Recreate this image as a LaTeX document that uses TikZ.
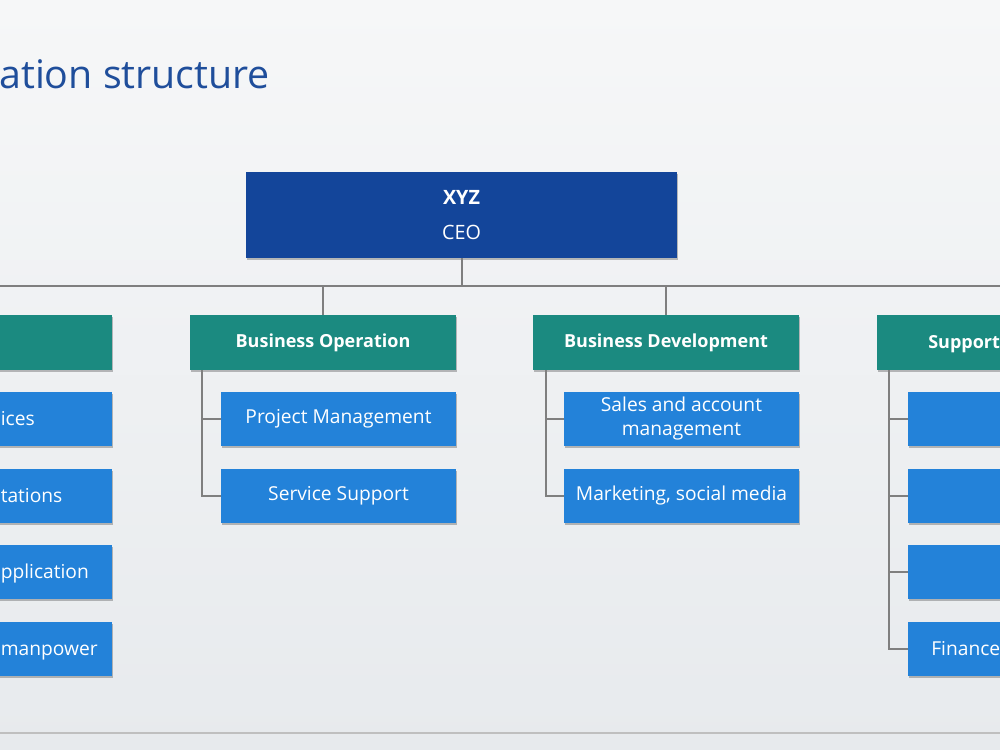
\documentclass[tikz,border=0pt]{standalone}
\usepackage{fontspec}
\setmainfont{Open Sans}
\usetikzlibrary{calc,shadows}
\definecolor{ceoblue}{HTML}{13459A}
\definecolor{deptteal}{HTML}{1B8A80}
\definecolor{subblue}{HTML}{2382D9}
\definecolor{linegray}{HTML}{7F7F7F}
\definecolor{titleblue}{HTML}{1F4E9B}
\definecolor{bgtop}{HTML}{F6F7F8}
\definecolor{bgbot}{HTML}{E7EAED}
\definecolor{rulegray}{HTML}{BFBFBF}
\tikzset{
  box/.style={rectangle, inner sep=0pt, text=white, align=center,
    drop shadow={shadow xshift=1pt, shadow yshift=-1.2pt, opacity=0.25, fill=black}},
  ceobox/.style={box, fill=ceoblue, minimum width=323.25pt, minimum height=64.5pt,
    font=\fontsize{14.8}{17}\selectfont},
  deptbox/.style={box, fill=deptteal, minimum width=199.5pt, minimum height=41.25pt,
    font=\fontsize{13.5}{16}\selectfont\bfseries},
  subbox/.style={box, fill=subblue, minimum width=176.25pt, minimum height=40.5pt,
    font=\fontsize{14.4}{18}\selectfont},
  cut/.style={inner sep=0pt, text=white, font=\fontsize{14.4}{18}\selectfont},
  cutbold/.style={inner sep=0pt, text=white, font=\fontsize{13.5}{16}\selectfont\bfseries},
  conn/.style={draw=linegray, line width=1.5pt},
}
\begin{document}
\begin{tikzpicture}[x=0.75pt,y=-0.75pt]
\useasboundingbox (0,0) rectangle (1000,750);
\clip (0,0) rectangle (1000,750);
\shade[top color=bgtop, bottom color=bgbot] (0,0) rectangle (1000,750);

% title
\node[anchor=base west, inner sep=0pt, text=titleblue, font=\fontsize{29.5}{34}\selectfont] (title) at (-1,88) {ation structure};

% boxes
\node[ceobox] (ceo) at (461.5,215) {\textbf{XYZ}\\[9pt]CEO};

\node[deptbox] (dl) at (-21,342.5) {};
\node[deptbox] (bo) at (323,342.5) {Business Operation};
\node[deptbox] (bd) at (666,342.5) {Business Development};
\node[deptbox] (sp) at (1010,342.5) {};
\node[cutbold, anchor=base west] (spt) at (928,348) {Support};

\node[subbox] (l1) at (-5.5,419) {};
\node[subbox] (l2) at (-5.5,496) {};
\node[subbox] (l3) at (-5.5,572) {};
\node[subbox] (l4) at (-5.5,649) {};
\node[cut, anchor=base west] (l1t) at (0.5,425) {ices};
\node[cut, anchor=base west] (l2t) at (0.5,502) {tations};
\node[cut, anchor=base west] (l3t) at (0.5,578) {pplication};
\node[cut, anchor=base west] (l4t) at (0.5,655) {manpower};

\node[subbox] (bo1) at (338.5,419) {Project Management};
\node[subbox] (bo2) at (338.5,496) {Service Support};

\node[subbox] (bd1) at (681.5,419) {Sales and account\\management};
\node[subbox] (bd2) at (681.5,496) {Marketing, social media};

\node[subbox] (sp1) at (1025.5,419) {};
\node[subbox] (sp2) at (1025.5,496) {};
\node[subbox] (sp3) at (1025.5,572) {};
\node[subbox] (sp4) at (1025.5,649) {};
\node[cut, anchor=base west] (sp4t) at (931,655) {Finance};

% connectors
\coordinate (busL) at (0,286);
\coordinate (busR) at (1000,286);
\draw[conn] (busL) -- (busR);
\draw[conn] (ceo.south) -- (ceo.south |- busL);
\draw[conn] (bo.north) -- (bo.north |- busL);
\draw[conn] (bd.north) -- (bd.north |- busL);

\coordinate (bos) at ($(bo.south west)+(12,0)$);
\draw[conn] (bos) |- (bo2.west);
\draw[conn] (bos |- bo1.west) -- (bo1.west);

\coordinate (bds) at ($(bd.south west)+(13,0)$);
\draw[conn] (bds) |- (bd2.west);
\draw[conn] (bds |- bd1.west) -- (bd1.west);

\coordinate (sps) at ($(sp.south west)+(12,0)$);
\draw[conn] (sps) |- (sp4.west);
\draw[conn] (sps |- sp1.west) -- (sp1.west);
\draw[conn] (sps |- sp2.west) -- (sp2.west);
\draw[conn] (sps |- sp3.west) -- (sp3.west);

% bottom rule
\coordinate (ruleL) at (0,733);
\coordinate (ruleR) at (1000,733);
\draw[draw=rulegray, line width=1.5pt] (ruleL) -- (ruleR);
\end{tikzpicture}
\end{document}
